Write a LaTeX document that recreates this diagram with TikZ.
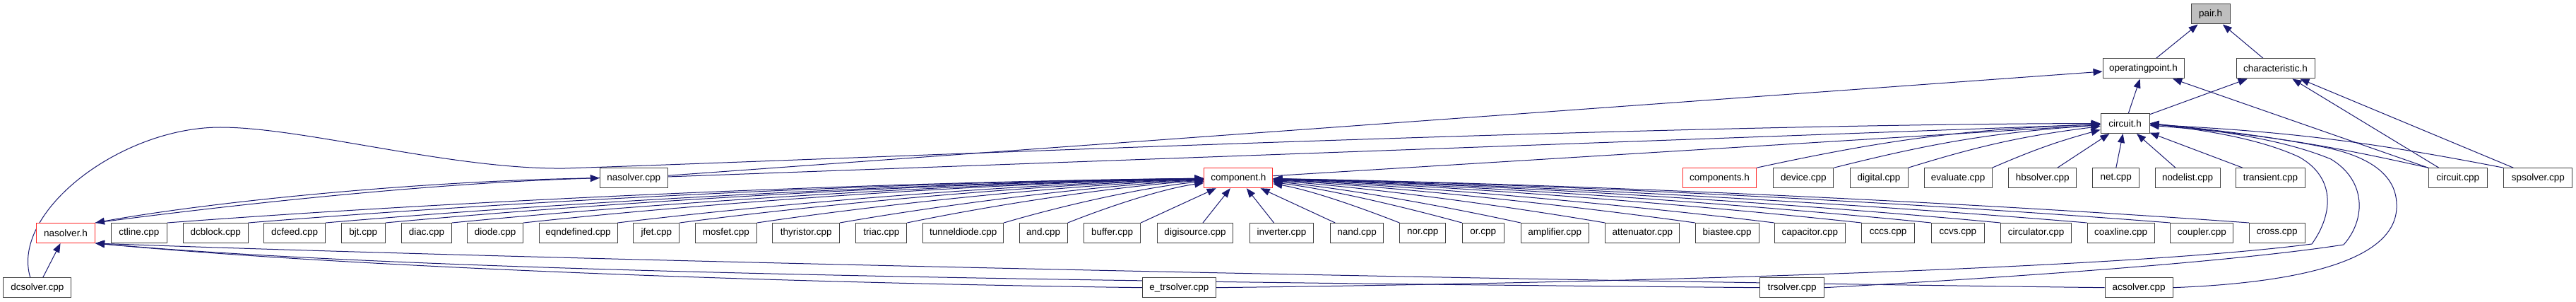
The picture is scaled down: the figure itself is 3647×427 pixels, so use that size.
\documentclass[tikz,border=0pt]{standalone}
\usepackage{fontspec}
\setmainfont{Liberation Sans}
\usetikzlibrary{arrows.meta,calc}
\pgfdeclarelayer{background}
\pgfsetlayers{background,main}
\definecolor{edgeblue}{HTML}{191970}
\definecolor{nodegray}{HTML}{BFBFBF}
\definecolor{nodeborder}{HTML}{404040}
\definecolor{nodered}{HTML}{FF2828}
\begin{document}
\begin{tikzpicture}[x=1pt,y=-1pt,
  file/.style={draw=nodeborder, line width=1pt, fill=white, minimum height=28pt, inner sep=0pt, font=\fontsize{13.5}{16}\selectfont},
  redfile/.style={file, draw=nodered},
  topfile/.style={file, fill=nodegray},
  edge/.style={draw=edgeblue, line width=1pt, -{Triangle[length=13pt,width=10pt]}}]
\useasboundingbox (0,0) rectangle (3647,427);
% rows 1-3
\node[topfile, minimum width=55pt] (pair) at (3129.5,20) {pair.h};
\node[file, minimum width=115pt] (opoint) at (3034.5,97) {operatingpoint.h};
\node[file, minimum width=111pt] (charh) at (3221.5,97) {characteristic.h};
\node[file, minimum width=69pt] (circuith) at (3008.5,174.5) {circuit.h};
% row 4
\node[file, minimum width=96pt] (nasolvercpp) at (897.3,251.7) {nasolver.cpp};
\node[redfile, minimum width=97pt] (componenth) at (1753.3,251.7) {component.h};
\node[redfile, minimum width=104pt] (componentsh) at (2434.5,251.7) {components.h};
\node[file, minimum width=85pt] (device) at (2553.3,251.7) {device.cpp};
\node[file, minimum width=82pt] (digital) at (2660,251.7) {digital.cpp};
\node[file, minimum width=96pt] (evaluate) at (2772,251.7) {evaluate.cpp};
\node[file, minimum width=96pt] (hbsolver) at (2891.8,251.7) {hbsolver.cpp};
\node[file, minimum width=66pt] (net) at (2995.8,251.7) {net.cpp};
\node[file, minimum width=92pt] (nodelist) at (3097,251.7) {nodelist.cpp};
\node[file, minimum width=98pt] (transient) at (3214.5,251.7) {transient.cpp};
\node[file, minimum width=83pt] (circuitcpp) at (3479.8,251.7) {circuit.cpp};
\node[file, minimum width=97pt] (spsolver) at (3593.3,251.7) {spsolver.cpp};
% row 5
\node[redfile, minimum width=83pt] (nasolverh) at (93,329.5) {nasolver.h};
\node[file, minimum width=79pt] (ctline) at (196.8,329.5) {ctline.cpp};
\node[file, minimum width=92pt] (dcblock) at (305.2,329.5) {dcblock.cpp};
\node[file, minimum width=87pt] (dcfeed) at (417.2,329.5) {dcfeed.cpp};
\node[file, minimum width=62pt] (bjt) at (514.3,329.5) {bjt.cpp};
\node[file, minimum width=71pt] (diac) at (604,329.5) {diac.cpp};
\node[file, minimum width=79pt] (diode) at (701.2,329.5) {diode.cpp};
\node[file, minimum width=111pt] (eqndefined) at (818.5,329.5) {eqndefined.cpp};
\node[file, minimum width=65pt] (jfet) at (929.3,329.5) {jfet.cpp};
\node[file, minimum width=87pt] (mosfet) at (1027.8,329.5) {mosfet.cpp};
\node[file, minimum width=95pt] (thyristor) at (1141.2,329.5) {thyristor.cpp};
\node[file, minimum width=72pt] (triac) at (1247.8,329.5) {triac.cpp};
\node[file, minimum width=114pt] (tunneldiode) at (1363.8,329.5) {tunneldiode.cpp};
\node[file, minimum width=68pt] (andcpp) at (1477.2,329.5) {and.cpp};
\node[file, minimum width=80pt] (buffer) at (1574.7,329.5) {buffer.cpp};
\node[file, minimum width=107pt] (digisource) at (1692,329.5) {digisource.cpp};
\node[file, minimum width=90pt] (inverter) at (1814.5,329.5) {inverter.cpp};
\node[file, minimum width=75pt] (nand) at (1921.2,329.5) {nand.cpp};
\node[file, minimum width=65pt] (nor) at (2014.3,329.5) {nor.cpp};
\node[file, minimum width=59pt] (orcpp) at (2099.7,329.5) {or.cpp};
\node[file, minimum width=96pt] (amplifier) at (2201.2,329.5) {amplifier.cpp};
\node[file, minimum width=105pt] (attenuator) at (2325.3,329.5) {attenuator.cpp};
\node[file, minimum width=90pt] (biastee) at (2445.2,329.5) {biastee.cpp};
\node[file, minimum width=100pt] (capacitor) at (2562.3,329.5) {capacitor.cpp};
\node[file, minimum width=75pt] (cccs) at (2673.2,329.5) {cccs.cpp};
\node[file, minimum width=75pt] (ccvs) at (2771.8,329.5) {ccvs.cpp};
\node[file, minimum width=100pt] (circulator) at (2882.5,329.5) {circulator.cpp};
\node[file, minimum width=95pt] (coaxline) at (3002.5,329.5) {coaxline.cpp};
\node[file, minimum width=89pt] (coupler) at (3117.3,329.5) {coupler.cpp};
\node[file, minimum width=79pt] (cross) at (3223.8,329.5) {cross.cpp};
% row 6
\node[file, minimum width=96pt] (dcsolver) at (52.8,406.7) {dcsolver.cpp};
\node[file, minimum width=104pt] (etrsolver) at (1669.3,406.7) {e\_trsolver.cpp};
\node[file, minimum width=91pt] (trsolver) at (2537.2,406.7) {trsolver.cpp};
\node[file, minimum width=96pt] (acsolver) at (3028,406.7) {acsolver.cpp};

\begin{pgfonlayer}{background}
% top
\draw[edge] (opoint) -- (pair);
\draw[edge] (charh) -- (pair);
\draw[edge] (circuith) -- (opoint);
\draw[edge] (circuith) -- (charh);
\draw[edge] (circuitcpp.north west) -- (opoint);
\draw[edge] ([xshift=15pt]circuitcpp.north west) -- (charh);
\draw[edge] ([xshift=14pt]spsolver.north west) -- (charh);
% into circuit.h
\draw[edge] (nasolvercpp) -- (opoint);
\draw[edge] (nasolvercpp) -- (circuith);
\draw[edge] ([xshift=-10pt]dcsolver.north) .. controls (15,300) and (170,180) .. (312,180)
  .. controls (430,180) and (640,240) .. (800,238)
  .. controls (1200,225) and (2300,176) .. (circuith.west);
\draw[edge] (componenth) -- (circuith);
\draw[edge] (componentsh.north east) to[bend left=5] (circuith);
\draw[edge] (device.north east) to[bend left=5] (circuith);
\draw[edge] (digital.north east) to[bend left=5] (circuith);
\draw[edge] (evaluate.north east) to[bend left=4] (circuith);
\draw[edge] ([xshift=21pt]hbsolver.north) -- (circuith);
\draw[edge] (net.north) -- (circuith);
\draw[edge] ([xshift=-17pt]nodelist.north) -- (circuith);
\draw[edge] ([xshift=10pt]transient.north west) -- (circuith);
\draw[edge] (circuitcpp.north west) to[bend right=4] (circuith);
\draw[edge] (spsolver.north west) to[bend right=4] (circuith);
\draw[edge] (etrsolver.east) .. controls (2300,400) and (3000,380) .. (3273,345)
  .. controls (3305,300) and (3305,250) .. (3255,222)
  .. controls (3190,192) and (3100,182) .. (circuith.east);
\draw[edge] (trsolver.east) .. controls (2800,395) and (3150,372) .. (3318,346)
  .. controls (3350,310) and (3350,255) .. (3300,225)
  .. controls (3220,192) and (3110,182) .. (circuith.east);
\draw[edge] (acsolver.east) .. controls (3250,400) and (3395,370) .. (3393,290)
  .. controls (3393,240) and (3340,218) .. (3290,208)
  .. controls (3200,190) and (3100,180) .. (circuith.east);
% nasolver.h
\draw[edge] ([xshift=8pt]dcsolver.north) -- (nasolverh);
\draw[edge] (nasolvercpp.west) .. controls (600,255) and (300,285) .. (nasolverh.north east);
\draw[edge] (nasolverh.north east) .. controls (310,292) and (600,259) .. (nasolvercpp.west);
\draw[edge] (etrsolver.west) .. controls (1100,400) and (500,378) .. (nasolverh.south east);
\draw[edge] (trsolver.west) .. controls (1500,398) and (600,385) .. (nasolverh.south east);
\draw[edge] (acsolver.west) .. controls (2000,395) and (700,365) .. (nasolverh.south east);
% into component.h, left group
\foreach \n/\k in {ctline/14,dcblock/14,dcfeed/13,bjt/13,diac/12,diode/12,eqndefined/11,jfet/10,mosfet/9,thyristor/8,triac/7,tunneldiode/6,andcpp/4}
  \draw[edge] (\n.north east) .. controls ($(\n.north east)!0.3!(componenth.west)+(0,-\k)$)
     and ($(\n.north east)!0.7!(componenth.west)+(0,-\k)$) .. (componenth);
\draw[edge] (buffer.north east) -- (componenth);
\draw[edge] ([xshift=11pt]digisource.north) -- (componenth);
\draw[edge] ([xshift=-11pt]inverter.north) -- (componenth);
% right group
\draw[edge] ([xshift=7pt]nand.north west) -- (componenth);
\foreach \n/\k in {nor/2,orcpp/3,amplifier/4,attenuator/5,biastee/6,capacitor/7,cccs/8,ccvs/9,circulator/10,coaxline/10,coupler/11,cross/11}
  \draw[edge] (\n.north west) .. controls ($(\n.north west)!0.3!(componenth.east)+(0,-\k)$)
     and ($(\n.north west)!0.7!(componenth.east)+(0,-\k)$) .. (componenth);
\end{pgfonlayer}
\end{tikzpicture}
\end{document}
